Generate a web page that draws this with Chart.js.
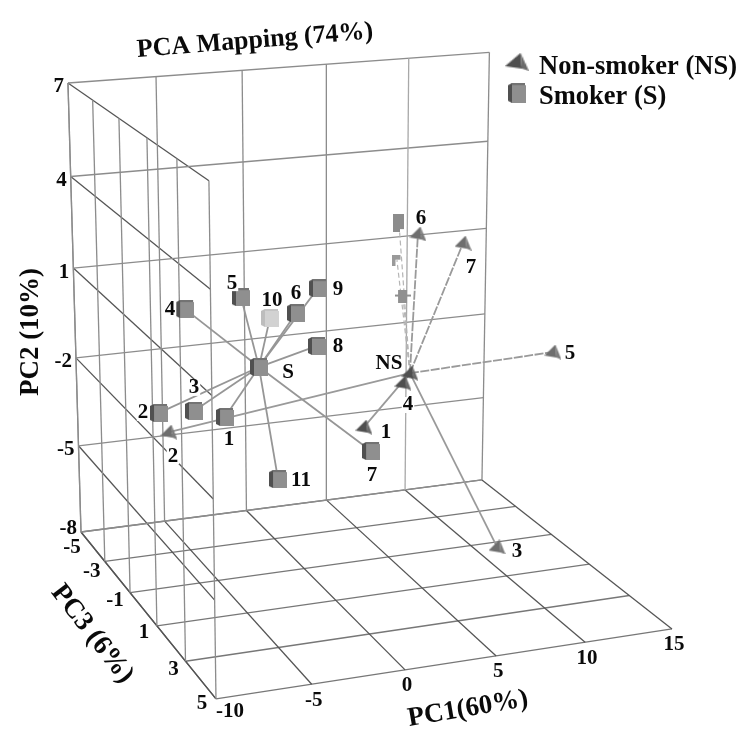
<!DOCTYPE html>
<html>
<head>
<meta charset="utf-8">
<title>PCA Mapping</title>
<script src="https://cdn.jsdelivr.net/npm/chart.js@4"></script>
<style>
html, body { margin: 0; padding: 0; background: #fff; overflow: hidden; }
canvas { display: block; }
</style>
</head>
<body>
<canvas id="pcaChart" width="747" height="753"></canvas>
<script>
// Axis ticks
const pc1Ticks = [-10, -5, 0, 5, 10, 15];
const pc2Ticks = [-8, -5, -2, 1, 4, 7];
const pc3Ticks = [-5, -3, -1, 1, 3, 5];

// Smoker samples (first entry is the group centre S)
const smokerLabels = ['S', '1', '2', '3', '4', '5', '6', '7', '8', '9', '10', '11'];
const smokerPC1 = [-3.39, -3.68, -6.69, -5.45, -5.09, -3.52, -2.20, 1.02, -1.96, -0.99, -2.76, -4.97];
const smokerPC2 = [-0.67, -3.12, -3.22, -2.80, 0.11, 1.16, 1.34, -2.75, 0.71, 2.04, 0.84, -2.73];
const smokerPC3 = [0, -2, -3, -2, -3, -1, 1, 2, 2, 1, 0, 3];

// Non-smoker samples (first entry is the group centre NS)
const nonSmokerLabels = ['NS', '1', '2', '3', '4', '5', '6', '7'];
const nonSmokerPC1 = [4.17, 0.62, -6.14, 7.16, 3.78, 11.28, 7.61, 9.25];
const nonSmokerPC2 = [-0.93, -1.97, -3.90, -5.78, -1.22, -0.30, 2.22, 2.18];
const nonSmokerPC3 = [1, 2, -3, 3, 1, 2, -2, -1];

// Half-erased smoker marks left above NS in the original scan
const scrapPC1 = [5.48, 5.38, 5.75];
const scrapPC2 = [3.02, 1.84, 0.66];
const scrapPC3 = [-1, -1, -1];

// Perspective of the box, fitted to its corners
function project(pc1, pc2, pc3) {
    const u = (pc1 + 10) / 25;
    const v = (pc2 + 8) / 15;
    const t = (pc3 + 5) / 10;
    const w = 1 + 0.0536 * u - 0.0495 * v - 0.143 * t;
    return {
        x: (81 + 426.8 * u - 16.4 * v + 104.1 * t) / w,
        y: (532 - 26.3 * u - 453.1 * v + 67 * t) / w
    };
}

// Marker sprites
function sprite(w, h, draw) {
    const c = document.createElement('canvas');
    c.width = w;
    c.height = h;
    draw(c.getContext('2d'));
    return c;
}

function poly(ctx, color, pts) {
    ctx.fillStyle = color;
    ctx.beginPath();
    pts.forEach((p, i) => i ? ctx.lineTo(p[0], p[1]) : ctx.moveTo(p[0], p[1]));
    ctx.closePath();
    ctx.fill();
}

function cube(front, side, top) {
    return sprite(18, 18, ctx => {
        poly(ctx, top, [[4, 0], [17, 0], [17, 3], [4, 3]]);
        poly(ctx, side, [[0, 2], [4, 0], [4, 18], [0, 16]]);
        poly(ctx, front, [[4, 2], [18, 2], [18, 18], [4, 18]]);
    });
}

function pyramid(left, right) {
    return sprite(17, 15, ctx => {
        poly(ctx, left, [[11, 0], [0, 11], [12, 13]]);
        poly(ctx, right, [[11, 0], [12, 13], [17, 15]]);
    });
}

const cubeMark = cube('#8f8f8f', '#505050', '#737373');
const paleCube = cube('#d2d2d2', '#bdbdbd', '#c4c4c4');
const darkPyramid = pyramid('#4f4f4f', '#6a6a6a');
const greyPyramid = pyramid('#6e6e6e', '#7c7c7c');
const scrapMarks = [
    sprite(12, 18, ctx => {
        poly(ctx, '#8c8c8c', [[0, 0], [11, 0], [11, 15], [7, 15], [7, 18], [0, 18]]);
    }),
    sprite(9, 11, ctx => {
        poly(ctx, '#9a9a9a', [[0, 0], [8, 0], [8, 5], [3, 5], [3, 11], [0, 11]]);
    }),
    sprite(16, 13, ctx => {
        poly(ctx, '#909090', [[3, 0], [12, 0], [12, 5], [16, 5], [16, 7], [12, 7], [12, 13], [3, 13], [3, 7], [0, 7], [0, 5], [3, 5]]);
    })
];

const smokerPoints = smokerPC1.map((v, i) => project(v, smokerPC2[i], smokerPC3[i]));
const nonSmokerPoints = nonSmokerPC1.map((v, i) => project(v, nonSmokerPC2[i], nonSmokerPC3[i]));
const scrapPoints = scrapPC1.map((v, i) => project(v, scrapPC2[i], scrapPC3[i]));

// Build one straight line dataset
function lineSet(from, to, color, width, dash) {
    return {
        type: 'scatter',
        showLine: true,
        data: [from, to],
        borderColor: color,
        borderWidth: width,
        borderDash: dash || [],
        pointRadius: 0,
        tension: 0
    };
}

const gridSets = [];
const WALL = '#8c8c8c';
const DARK = '#555555';
const FLOOR = '#777777';

// Back wall
pc1Ticks.forEach(v => gridSets.push(lineSet(project(v, -8, -5), project(v, 7, -5), v === 10 ? '#a8a8a8' : WALL, 1.3)));
pc2Ticks.forEach(v => gridSets.push(lineSet(project(-10, v, -5), project(15, v, -5), WALL, 1.3)));
// Left wall
pc3Ticks.forEach(v => gridSets.push(lineSet(project(-10, -8, v), project(-10, 7, v), WALL, 1.3)));
pc2Ticks.forEach(v => gridSets.push(lineSet(project(-10, v, -5), project(-10, v, 5), DARK, 1.3)));
// Floor
pc1Ticks.forEach(v => gridSets.push(lineSet(project(v, -8, -5), project(v, -8, 5), DARK, 1.3)));
pc3Ticks.forEach(v => gridSets.push(lineSet(project(-10, -8, v), project(15, -8, v), FLOOR, 1.3)));

// Spokes from each group centre
const spokeSets = [];
smokerPoints.slice(1).forEach(p => spokeSets.push(lineSet(smokerPoints[0], p, '#969696', 1.8)));
nonSmokerPoints.slice(1).forEach((p, i) => {
    // samples 5, 6 and 7 came out broken in the scan
    spokeSets.push(lineSet(nonSmokerPoints[0], p, '#9a9a9a', 1.8, i >= 4 ? [9, 1.5] : []));
});
scrapPoints.forEach(p => spokeSets.push(lineSet(nonSmokerPoints[0], p, '#b5b5b5', 1.2, [5, 3])));

const markSets = [
    {
        type: 'scatter',
        label: 'Non-smoker (NS)',
        data: nonSmokerPoints,
        pointRadius: 8,
        pointStyle: nonSmokerLabels.map((l, i) => (i === 0 || i === 1 || i === 4) ? darkPyramid : greyPyramid)
    },
    {
        type: 'scatter',
        label: 'Smoker (S)',
        data: smokerPoints,
        pointRadius: 8,
        pointStyle: smokerLabels.map(l => l === '10' ? paleCube : cubeMark)
    },
    {
        type: 'scatter',
        data: scrapPoints,
        pointRadius: 6,
        pointStyle: scrapMarks
    }
];

// Label nudges relative to each mark
const smokerNudge = [[29, 6], [4, 23], [-16, 0], [0, -23], [-15, 0], [-9, -14], [0, -20], [1, 25], [21, 1], [20, 1], [2, -17], [23, 1]];
const nonSmokerNudge = [[-21, -10], [22, 5], [4, 24], [20, 5], [5, 22], [17, 2], [3, -15], [8, 24]];
const pc3Nudge = [[-9, 16], [-13, 10], [-15, 8], [-13, 7], [-12, 8], [-14, 5]];

const SERIF = '"Liberation Serif", "Times New Roman", serif';

function text(ctx, str, x, y, size, angle, align) {
    ctx.save();
    ctx.translate(x, y);
    ctx.rotate((angle || 0) * Math.PI / 180);
    ctx.font = 'bold ' + size + 'px ' + SERIF;
    ctx.fillStyle = '#0a0a0a';
    ctx.textAlign = align || 'center';
    ctx.textBaseline = 'middle';
    ctx.fillText(str, 0, 0);
    ctx.restore();
}

function pointLabel(ctx, str, p, nudge) {
    const x = p.x + nudge[0];
    const y = p.y + nudge[1];
    ctx.font = 'bold 21px ' + SERIF;
    const w = ctx.measureText(str).width;
    ctx.fillStyle = '#fff';
    ctx.fillRect(x - w / 2 - 1, y - 8, w + 2, 16);
    text(ctx, str, x, y, 21);
}

const annotations = {
    id: 'annotations',
    afterDatasetsDraw(chart) {
        const ctx = chart.ctx;

        smokerLabels.forEach((l, i) => pointLabel(ctx, l, smokerPoints[i], smokerNudge[i]));
        nonSmokerLabels.forEach((l, i) => pointLabel(ctx, l, nonSmokerPoints[i], nonSmokerNudge[i]));

        pc2Ticks.forEach(v => {
            const p = project(-10, v, -5);
            text(ctx, String(v), p.x - 4, p.y + (v === -8 ? -3 : 4), 21, 0, 'right');
        });
        pc3Ticks.forEach((v, i) => {
            const p = project(-10, -8, v);
            text(ctx, String(v), p.x + pc3Nudge[i][0], p.y + pc3Nudge[i][1], 21);
        });
        pc1Ticks.forEach(v => {
            const p = project(v, -8, 5);
            text(ctx, String(v), p.x + (v === -10 ? 14 : 2), p.y + (v === -10 ? 13 : 16), 21);
        });

        text(ctx, 'PCA Mapping (74%)', 255, 41, 26, -4.5);
        text(ctx, 'PC2 (10%)', 31, 332, 27, -90);
        text(ctx, 'PC3 (6%)', 92, 634, 27.5, 52);
        text(ctx, 'PC1(60%)', 468, 709, 27, -9.7);

        // Legend
        ctx.drawImage(darkPyramid, 505, 53, 24, 18);
        ctx.drawImage(cubeMark, 508, 83, 18, 20);
        text(ctx, 'Non-smoker (NS)', 539, 67, 26.5, 0, 'left');
        text(ctx, 'Smoker (S)', 539, 97, 26.5, 0, 'left');
    }
};

const chart = new Chart(document.getElementById('pcaChart').getContext('2d'), {
    data: {
        datasets: markSets.concat(spokeSets, gridSets)
    },
    options: {
        responsive: false,
        animation: false,
        layout: { autoPadding: false, padding: 0 },
        plugins: {
            legend: { display: false },
            tooltip: { enabled: false }
        },
        scales: {
            x: { type: 'linear', min: 0, max: 747, display: false },
            y: { type: 'linear', min: 0, max: 753, reverse: true, display: false }
        }
    },
    plugins: [annotations]
});
</script>
</body>
</html>
